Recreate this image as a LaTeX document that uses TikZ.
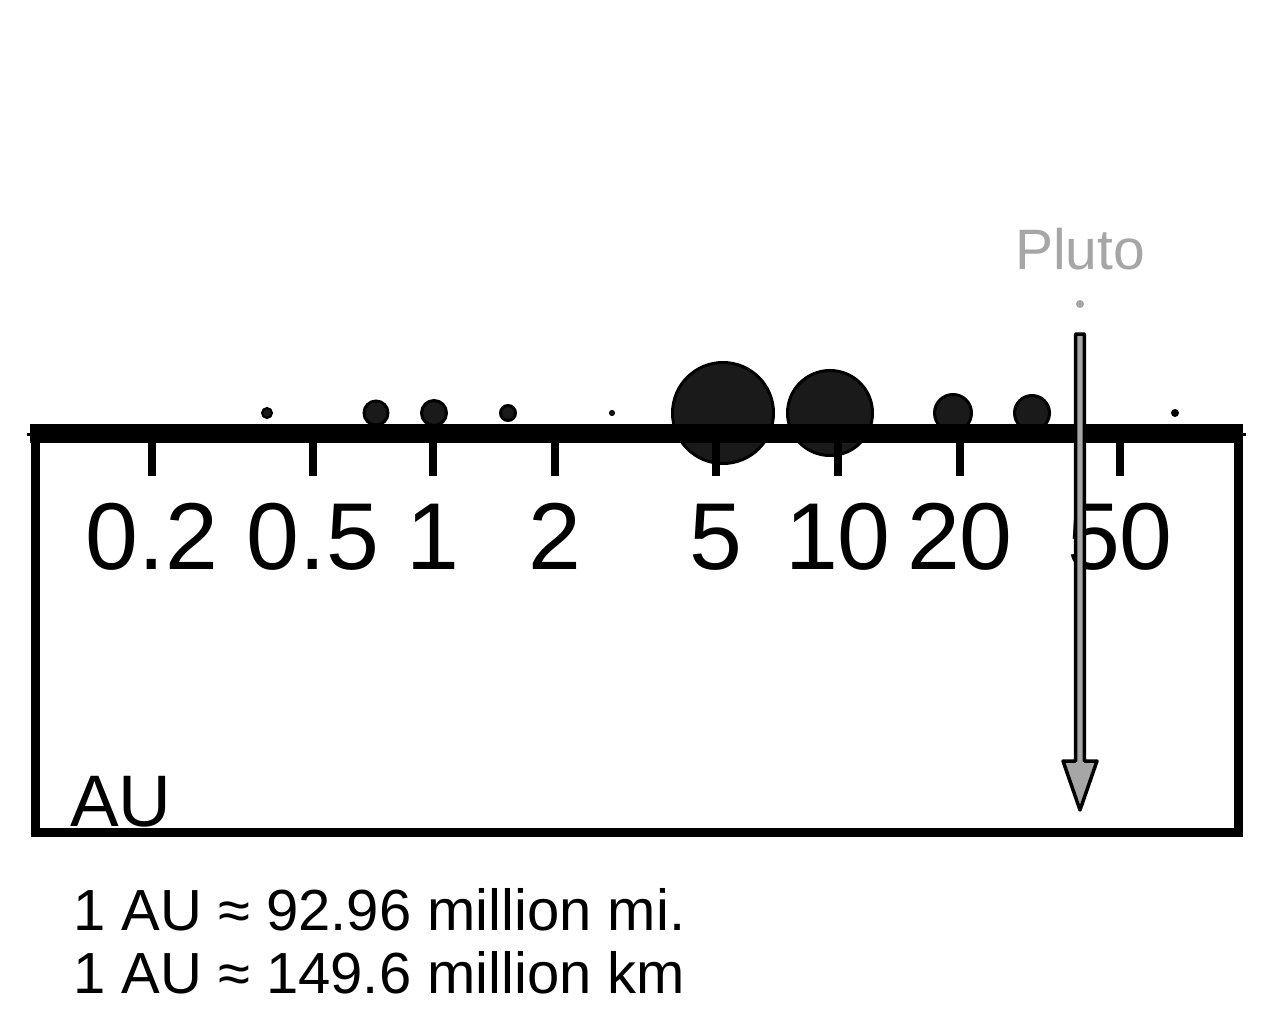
\documentclass[tikz,border=0pt]{standalone}
\usepackage{fontspec}
\setmainfont{Liberation Sans}
\begin{document}
\begin{tikzpicture}[x=1pt,y=-1pt,
  planet/.style={fill=planetgray,draw=black,line width=3pt},
  ticklabel/.style={anchor=base,inner sep=0pt,font=\fontsize{95}{95}\selectfont},
  tickmark/.style={line width=8pt},
  note/.style={anchor=base west,inner sep=0pt,font=\fontsize{58}{58}\selectfont}]
\definecolor{planetgray}{HTML}{1A1A1A}
\definecolor{plutogray}{HTML}{A6A6A6}
\useasboundingbox (0,0) rectangle (1272,1033);
\fill[white] (0,0) rectangle (1272,1033);
% planets (log scale: 1 AU at x=433, 405 px per decade)
\draw[planet,line width=2pt] (267,413) circle[radius=5pt];
\draw[planet] (376,413) circle[radius=12pt];
\draw[planet] (434,413) circle[radius=12.5pt];
\draw[planet] (508,413) circle[radius=7.5pt];
\draw[planet,line width=1pt] (612,413) circle[radius=2.5pt];
\draw[planet] (723,413) circle[radius=50.5pt];
\draw[planet] (830,413) circle[radius=42.5pt];
\draw[planet] (953,413) circle[radius=18.5pt];
\draw[planet] (1032,413) circle[radius=17.5pt];
\fill[black] (1175,413) circle[radius=4pt];
\fill[plutogray] (1080,304) circle[radius=4pt];
% axis bar and box
\draw[line width=3pt] (27,434) -- (1246,434);
\fill[black] (30,424) rectangle (1243,443);
\draw[line width=9pt] (35,438) rectangle (1238,832);
% ticks and labels
\foreach \x/\lab/\nm in {152/0.2/a,313/0.5/b,433/1/c,555/2/d,716/5/e,838/10/f,960/20/g,1120/50/h}{
  \draw[tickmark] (\x,443) -- (\x,476);
  \node[ticklabel] (lab\nm) at (\x,569) {\lab};
}
\node[anchor=base west,inner sep=0pt,font=\fontsize{73}{73}\selectfont] (au) at (70,826) {AU};
\node[anchor=base,inner sep=0pt,text=plutogray,font=\fontsize{57}{57}\selectfont] (pluto) at (1080,269) {Pluto};
% Pluto arrow
\coordinate (arrtop) at (1080,334);
\coordinate (arrtip) at (1080,810);
\draw[fill=plutogray,draw=black,line width=3.5pt,line join=round]
  ([xshift=-4.3pt]arrtop) -- ([xshift=4.3pt]arrtop) -- (1084.3,761) -- (1097,761) -- (arrtip)
  -- (1063,761) -- (1075.7,761) -- cycle;
% notes
\node[note] (mi) at (73,930) {1 AU ≈ 92.96 million mi.};
\node[note] (km) at (73,993) {1 AU ≈ 149.6 million km};
\end{tikzpicture}
\end{document}
